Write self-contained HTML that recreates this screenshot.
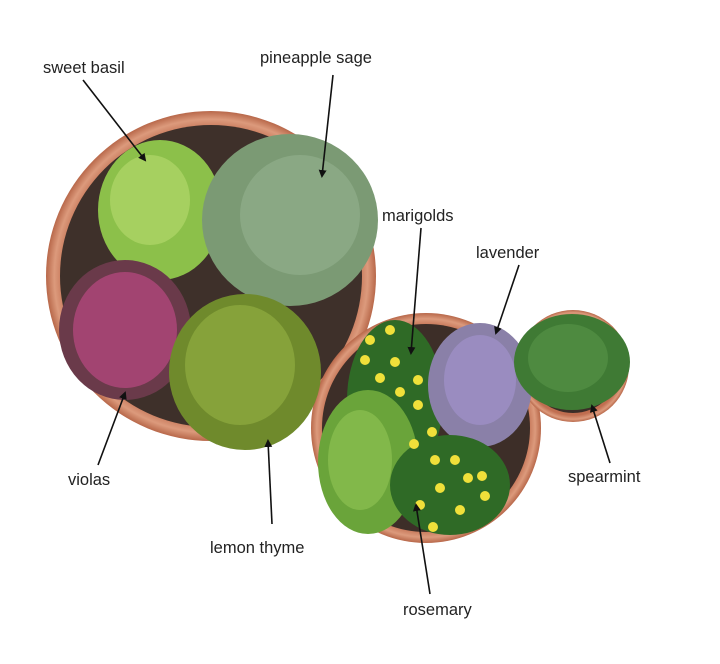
<!DOCTYPE html>
<html><head><style>
html,body{margin:0;padding:0;background:#fff;}
svg{display:block}
text{font-family:"Liberation Sans",sans-serif;font-size:16.5px;fill:#222;}
</style></head><body>
<svg width="720" height="664" viewBox="0 0 720 664">
<defs>
<marker id="a" markerWidth="8" markerHeight="8" refX="6" refY="4" orient="auto" markerUnits="userSpaceOnUse"><path d="M0,0 L8,4 L0,8 z" fill="#111"/></marker>
<radialGradient id="pot" cx="50%" cy="50%" r="50%"><stop offset="88%" stop-color="#c06e50"/><stop offset="95%" stop-color="#dc9a7c"/><stop offset="100%" stop-color="#b8684a"/></radialGradient>
</defs>
<circle cx="211" cy="276" r="165" fill="url(#pot)"/>
<circle cx="211" cy="276" r="151" fill="#3e302a"/>
<circle cx="426" cy="428" r="115" fill="url(#pot)"/>
<circle cx="426" cy="428" r="104" fill="#3d2e28"/>
<circle cx="573" cy="366" r="56" fill="url(#pot)"/>
<circle cx="573" cy="366" r="47" fill="#3b2d27"/>
<!-- large pot plants -->
<ellipse cx="160" cy="210" rx="62" ry="70" fill="#8cc04a"/>
<ellipse cx="150" cy="200" rx="40" ry="45" fill="#a6d060"/>
<ellipse cx="290" cy="220" rx="88" ry="86" fill="#7b9a74"/>
<ellipse cx="300" cy="215" rx="60" ry="60" fill="#8aa884"/>
<ellipse cx="125" cy="330" rx="66" ry="70" fill="#6a3a4a"/>
<ellipse cx="125" cy="330" rx="52" ry="58" fill="#b0477a" opacity=".8"/>
<ellipse cx="245" cy="372" rx="76" ry="78" fill="#6f8a2c"/>
<ellipse cx="240" cy="365" rx="55" ry="60" fill="#86a23a"/>
<!-- medium pot -->
<ellipse cx="395" cy="400" rx="48" ry="80" fill="#2f6a26"/>
<ellipse cx="480" cy="385" rx="52" ry="62" fill="#8a80a8"/>
<ellipse cx="480" cy="380" rx="36" ry="45" fill="#9a8cc0"/>
<ellipse cx="368" cy="462" rx="50" ry="72" fill="#6aa43a"/>
<ellipse cx="360" cy="460" rx="32" ry="50" fill="#82b84a"/>
<ellipse cx="450" cy="485" rx="60" ry="50" fill="#2f6a26"/>
<g fill="#f0e03a">
<circle cx="370" cy="340" r="5"/><circle cx="390" cy="330" r="5"/><circle cx="365" cy="360" r="5"/><circle cx="395" cy="362" r="5"/><circle cx="418" cy="380" r="5"/><circle cx="380" cy="378" r="5"/><circle cx="400" cy="392" r="5"/><circle cx="418" cy="405" r="5"/><circle cx="432" cy="432" r="5"/><circle cx="414" cy="444" r="5"/><circle cx="435" cy="460" r="5"/><circle cx="455" cy="460" r="5"/><circle cx="468" cy="478" r="5"/><circle cx="440" cy="488" r="5"/><circle cx="485" cy="496" r="5"/><circle cx="460" cy="510" r="5"/><circle cx="433" cy="527" r="5"/><circle cx="420" cy="505" r="5"/><circle cx="482" cy="476" r="5"/>
</g>
<ellipse cx="572" cy="362" rx="58" ry="48" fill="#3f7a34"/>
<ellipse cx="568" cy="358" rx="40" ry="34" fill="#4e8a40"/>
<g stroke="#111" stroke-width="1.6" marker-end="url(#a)">
<line x1="83" y1="80" x2="145" y2="160"/>
<line x1="333" y1="75" x2="322" y2="176"/>
<line x1="421" y1="228" x2="411" y2="353"/>
<line x1="519" y1="265" x2="496" y2="333"/>
<line x1="610" y1="463" x2="592" y2="406"/>
<line x1="98" y1="465" x2="125" y2="393"/>
<line x1="272" y1="524" x2="268" y2="441"/>
<line x1="430" y1="594" x2="416" y2="505"/>
</g>
<text x="43" y="73">sweet basil</text>
<text x="260" y="63">pineapple sage</text>
<text x="382" y="221">marigolds</text>
<text x="476" y="258">lavender</text>
<text x="568" y="482">spearmint</text>
<text x="68" y="485">violas</text>
<text x="210" y="553">lemon thyme</text>
<text x="403" y="615">rosemary</text>
</svg>
</body></html>
